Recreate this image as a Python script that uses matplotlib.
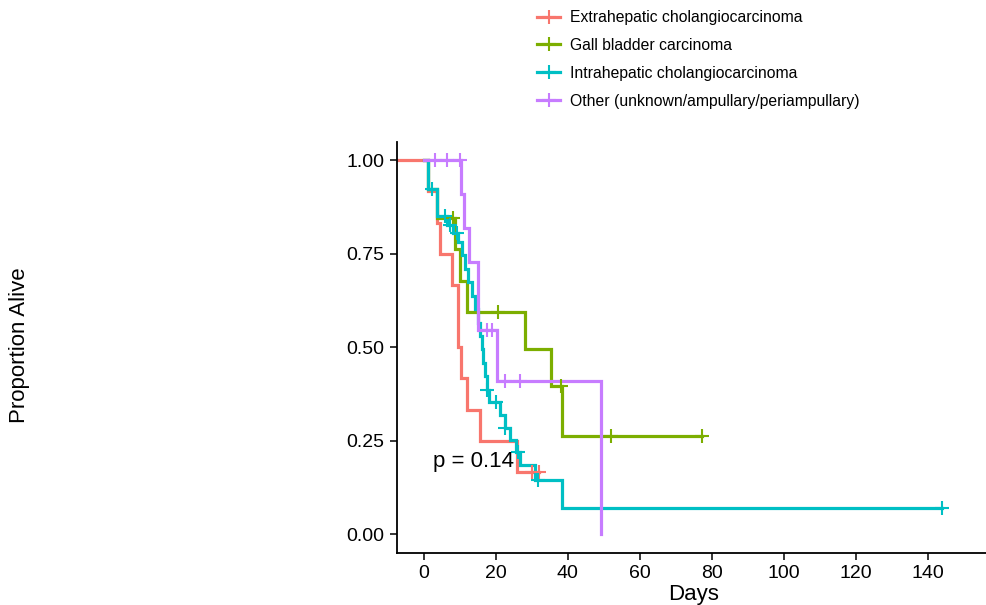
import numpy as np
import matplotlib
matplotlib.use("Agg")
import matplotlib.pyplot as plt
from matplotlib.lines import Line2D

plt.rcParams['font.family'] = ['Liberation Sans', 'DejaVu Sans']

groups = ["Extrahepatic cholangiocarcinoma", "Gall bladder carcinoma",
          "Intrahepatic cholangiocarcinoma", "Other (unknown/ampullary/periampullary)"]
colors = ["#F8766D", "#7CAE00", "#00BFC4", "#C77CFF"]

# step curves (time of each step, survival after step)
red_times = [-7.5, 1.0, 3.5, 4.5, 7.7, 9.5, 10.2, 12.0, 15.6, 25.9]
red_surv = [1.0, 0.917, 0.833, 0.75, 0.667, 0.5, 0.417, 0.333, 0.25, 0.167]
red_end = 32.0
red_censor = [29.9, 32.0]

green_times = [0, 1.2, 3.5, 8.5, 10.0, 11.9, 28.1, 35.3, 38.3]
green_surv = [1.0, 0.923, 0.846, 0.762, 0.677, 0.593, 0.494, 0.395, 0.263]
green_end = 77.2
green_censor = [8.1, 20.7, 38.0, 51.9, 77.2]

cyan_times = [0, 1.2, 3.5, 6.5, 8.0, 9.5, 10.5, 11.4, 12.3, 13.3, 14.2, 15.1,
              15.6, 16.0, 16.5, 17.0, 17.4, 18.0, 21.0, 22.5, 23.9, 25.5, 26.7,
              30.8, 38.4]
cyan_surv = [1.0, 0.923, 0.851, 0.828, 0.805, 0.782, 0.746, 0.71, 0.674, 0.638,
             0.602, 0.566, 0.53, 0.494, 0.458, 0.422, 0.386, 0.352, 0.318, 0.284,
             0.251, 0.22, 0.186, 0.145, 0.069]
cyan_end = 144.0
cyan_censor = [2.1, 5.8, 7.2, 9.1, 17.4, 20.1, 22.5, 26.2, 31.8, 144.0]

purple_times = [0, 10.3, 11.1, 12.5, 15.1, 20.2, 49.1]
purple_surv = [1.0, 0.909, 0.818, 0.727, 0.545, 0.409, 0.0]
purple_end = 49.1
purple_censor = [3.1, 6.5, 10.0, 17.4, 18.8, 22.5, 26.8]

series = [
    (red_times, red_surv, red_end, red_censor),
    (green_times, green_surv, green_end, green_censor),
    (cyan_times, cyan_surv, cyan_end, cyan_censor),
    (purple_times, purple_surv, purple_end, purple_censor),
]

x_ticks = [0, 20, 40, 60, 80, 100, 120, 140]
y_ticks = [0.00, 0.25, 0.50, 0.75, 1.00]
y_tick_labels = ["0.00", "0.25", "0.50", "0.75", "1.00"]

fig = plt.figure(figsize=(9.87, 6.05), dpi=100)
ax = fig.add_axes([397 / 987, 52.3 / 605, (990.7 - 397) / 987, (552.7 - 141.7) / 605])

for (t, s, end, cens), col in zip(series, colors):
    tt = list(t) + [end]
    ss = list(s) + [s[-1]]
    ax.step(tt, ss, where='post', color=col, lw=2.3, solid_joinstyle='miter', zorder=2)

for (t, s, end, cens), col in zip(series, colors):
    t_arr = np.asarray(t)
    s_arr = np.asarray(s)
    idx = np.searchsorted(t_arr, np.asarray(cens), side='right') - 1
    ax.plot(cens, s_arr[idx], linestyle='none', marker='+', markersize=10,
            markeredgewidth=1.5, color=col, zorder=3)

ax.text(2.5, 0.193, "p = 0.14", fontsize=16, ha='left', va='center', color='black')

ax.set_xlim(-7.5, 157.5)
ax.set_ylim(-0.05, 1.05)
ax.set_xticks(x_ticks)
ax.set_yticks(y_ticks)
ax.set_yticklabels(y_tick_labels)
ax.tick_params(axis='both', labelsize=14, length=5, width=1.1, colors='black', pad=4)
for side in ['top', 'right']:
    ax.spines[side].set_visible(False)
for side in ['left', 'bottom']:
    ax.spines[side].set_linewidth(1.3)
    ax.spines[side].set_color('black')

ax.set_xlabel("Days", fontsize=16, labelpad=1)
fig.text(20 / 987, 1 - 345 / 605, "Proportion Alive", rotation=90, fontsize=16,
         ha='center', va='center')

handles = [Line2D([0], [0], color=c, lw=2.3, marker='+', markersize=10,
                  markeredgewidth=1.5) for c in colors]
fig.legend(handles, groups, loc='upper left', bbox_to_anchor=(537 / 987, 1 - 10 / 605),
           frameon=False, fontsize=11.3, handlelength=1.47, handletextpad=0.64,
           labelspacing=0.82, borderpad=0, borderaxespad=0)

fig.savefig("out.png", dpi=100)
